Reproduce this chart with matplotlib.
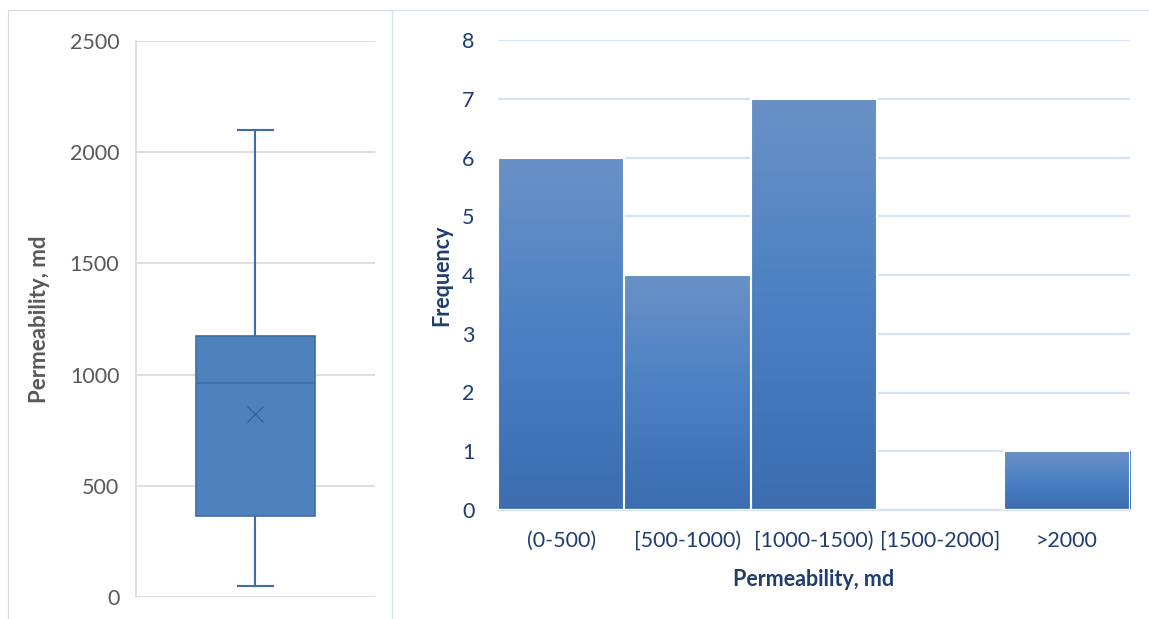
import matplotlib
matplotlib.use("Agg")
import matplotlib.pyplot as plt
import numpy as np
from matplotlib.patches import Rectangle

# box plot summary of permeability (md)
box_stats = [dict(
    whislo=50, q1=365, med=960, q3=1175, whishi=2100, mean=823, fliers=[],
)]

# histogram of permeability classes
bins = ["(0-500)", "[500-1000)", "[1000-1500)", "[1500-2000]", ">2000"]
freq = [6, 4, 7, 0, 1]

plt.rcParams["font.family"] = ["Lato", "DejaVu Sans"]

BOX_FACE = "#4f81bd"
BOX_EDGE = "#3f6ea6"
GRID_GRAY = "#d9d9d9"
GRID_BLUE = "#d6e2f2"
NAVY = "#1f3d6e"
GRAY_TXT = "#595959"

fig = plt.figure(figsize=(11.49, 6.19), dpi=100)

# panel frames
fig.patches.append(Rectangle((8 / 1149, -0.01), 384 / 1149, 1 - 10 / 619 + 0.01,
                             transform=fig.transFigure, fill=False,
                             edgecolor="#d9d9d9", linewidth=0.8))
fig.patches.append(Rectangle((392 / 1149, -0.01), 1 - 392 / 1149 + 0.01, 1 - 10 / 619 + 0.01,
                             transform=fig.transFigure, fill=False,
                             edgecolor="#d6e2f2", linewidth=0.8))

# ---- left: box plot ----
ax1 = fig.add_axes([136 / 1149, 22 / 619, 239 / 1149, 556 / 619])
ax1.bxp(box_stats, positions=[1], widths=0.5, patch_artist=True, showmeans=True,
        boxprops=dict(facecolor=BOX_FACE, edgecolor=BOX_EDGE, linewidth=1.2),
        medianprops=dict(color=BOX_EDGE, linewidth=1.2),
        whiskerprops=dict(color=BOX_EDGE, linewidth=1.5),
        capprops=dict(color=BOX_EDGE, linewidth=1.5),
        capwidths=0.15,
        meanprops=dict(marker="x", markeredgecolor="#3a6396", markersize=11,
                       markeredgewidth=1.0))
ax1.set_xlim(0.5, 1.5)
ax1.set_ylim(0, 2500)
ax1.set_yticks(np.arange(0, 2501, 500))
ax1.set_xticks([])
ax1.yaxis.grid(True, color=GRID_GRAY, linewidth=1.2)
ax1.set_axisbelow(True)
for s in ["top", "right", "bottom"]:
    ax1.spines[s].set_visible(False)
ax1.spines["left"].set_color(GRID_GRAY)
ax1.spines["left"].set_linewidth(1.2)
ax1.tick_params(axis="y", length=0, pad=12, labelsize=15.5, labelcolor=GRAY_TXT)
ax1.set_ylabel("Permeability, md", fontsize=16, fontweight="bold",
               color=GRAY_TXT, labelpad=14)

# ---- right: histogram ----
ax2 = fig.add_axes([498 / 1149, 109 / 619, 632 / 1149, 470 / 619])
x = np.arange(len(bins))
bars = ax2.bar(x, freq, width=1.0, color=BOX_FACE, edgecolor="white", linewidth=1.5,
               zorder=2)
grad = np.linspace(0, 1, 256).reshape(-1, 1)
cmap = matplotlib.colors.LinearSegmentedColormap.from_list(
    "g", ["#3b6daf", "#4b80c2", "#6a91c6"])
for b in bars:
    if b.get_height() == 0:
        continue
    im = ax2.imshow(grad, cmap=cmap, aspect="auto", origin="lower",
                    extent=[b.get_x(), b.get_x() + b.get_width(), 0, b.get_height()],
                    zorder=2.5)
    im.set_clip_path(b)
    ax2.add_patch(Rectangle((b.get_x(), 0), b.get_width(), b.get_height(),
                            fill=False, edgecolor="white", linewidth=1.5, zorder=3))
ax2.set_xlim(-0.5, len(bins) - 0.5)
ax2.set_ylim(0, 8)
ax2.set_yticks(np.arange(0, 9, 1))
ax2.set_xticks(x)
ax2.set_xticklabels(bins)
ax2.yaxis.grid(True, color=GRID_BLUE, linewidth=1.6)
ax2.set_axisbelow(True)
for s in ["top", "right", "left"]:
    ax2.spines[s].set_visible(False)
ax2.spines["bottom"].set_color(GRID_BLUE)
ax2.spines["bottom"].set_linewidth(1.6)
ax2.tick_params(axis="y", length=0, pad=17, labelsize=15.5, labelcolor=NAVY)
ax2.tick_params(axis="x", length=0, pad=15, labelsize=15.5, labelcolor=NAVY)
ax2.set_ylabel("Frequency", fontsize=15.5, fontweight="bold", color=NAVY, labelpad=7)
ax2.set_xlabel("Permeability, md", fontsize=15.5, fontweight="bold", color=NAVY,
               labelpad=13)

fig.savefig("out.png", dpi=100)
